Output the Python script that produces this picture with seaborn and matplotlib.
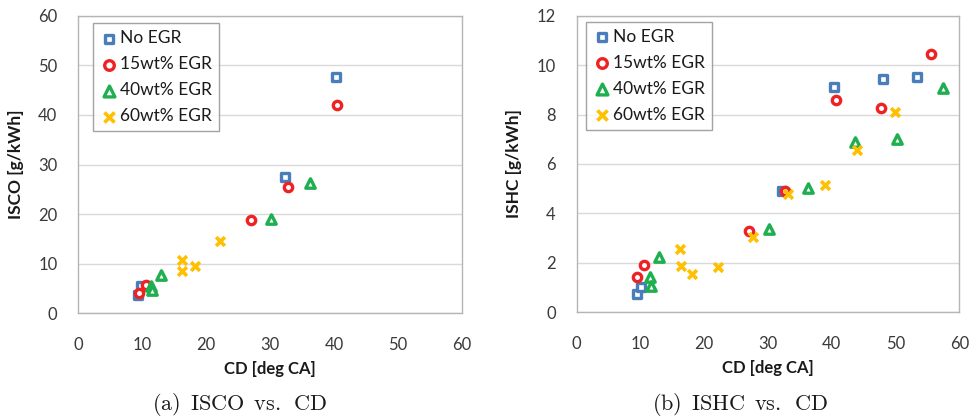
import matplotlib
matplotlib.use("Agg")
import matplotlib.pyplot as plt
import pandas as pd
import seaborn as sns

# ---- data -----------------------------------------------------------------
series = ["No EGR", "15wt% EGR", "40wt% EGR", "60wt% EGR"]

# Panel (a): ISCO vs. CD
isco_cd_noegr = [9.4, 9.8, 32.3, 40.4]
isco_noegr = [3.7, 5.5, 27.4, 47.7]
isco_cd_15 = [9.5, 10.6, 27.0, 32.8, 40.5]
isco_15 = [4.0, 5.7, 18.75, 25.5, 42.1]
isco_cd_40 = [11.3, 11.6, 12.9, 30.2, 36.2]
isco_40 = [5.5, 4.7, 7.7, 19.1, 26.3]
isco_cd_60 = [16.2, 16.3, 18.2, 22.1]
isco_60 = [10.75, 8.6, 9.6, 14.65]

# Panel (b): ISHC vs. CD
ishc_cd_noegr = [9.4, 10.1, 32.25, 40.4, 48.1, 53.3]
ishc_noegr = [0.74, 1.04, 4.92, 9.11, 9.44, 9.53]
ishc_cd_15 = [9.5, 10.6, 27.0, 32.7, 40.6, 47.8, 55.5]
ishc_15 = [1.42, 1.91, 3.30, 4.92, 8.58, 8.25, 10.45]
ishc_cd_40 = [11.5, 11.6, 12.9, 30.2, 36.2, 43.6, 50.3, 57.5]
ishc_40 = [1.44, 1.08, 2.22, 3.36, 5.02, 6.88, 7.01, 9.06]
ishc_cd_60 = [16.2, 16.3, 18.1, 22.1, 27.7, 33.1, 38.9, 44.0, 49.9]
ishc_60 = [2.55, 1.87, 1.54, 1.82, 3.03, 4.77, 5.15, 6.58, 8.10]

x_ticks = [0, 10, 20, 30, 40, 50, 60]
isco_ticks = [0, 10, 20, 30, 40, 50, 60]
ishc_ticks = [0, 2, 4, 6, 8, 10, 12]


def frame(cds, vals, name):
    return pd.DataFrame({"CD": cds, "value": vals, "case": name})


df_isco = pd.concat([
    frame(isco_cd_noegr, isco_noegr, series[0]),
    frame(isco_cd_15, isco_15, series[1]),
    frame(isco_cd_40, isco_40, series[2]),
    frame(isco_cd_60, isco_60, series[3]),
], ignore_index=True)

df_ishc = pd.concat([
    frame(ishc_cd_noegr, ishc_noegr, series[0]),
    frame(ishc_cd_15, ishc_15, series[1]),
    frame(ishc_cd_40, ishc_40, series[2]),
    frame(ishc_cd_60, ishc_60, series[3]),
], ignore_index=True)

# ---- styling --------------------------------------------------------------
sns.set_style("white")
plt.rcParams["font.family"] = ["Lato", "DejaVu Sans"]
plt.rcParams["mathtext.fontset"] = "cm"

styles = {
    "No EGR": dict(marker="s", s=30, facecolor="white", edgecolor="#4A7EBB", linewidth=2.4),
    "15wt% EGR": dict(marker="o", s=36, facecolor="white", edgecolor="#EE2222", linewidth=2.4),
    "40wt% EGR": dict(marker="^", s=46, facecolor="white", edgecolor="#1FAF50", linewidth=2.4),
    "60wt% EGR": dict(marker="x", s=40, color="#FFC000", linewidth=2.6),
}

frame_col = "#b5b5b5"
grid_col = "#d9d9d9"

fig = plt.figure(figsize=(9.73, 4.19), dpi=100)
ax_a = fig.add_axes([0.0805, 0.2523, 0.394, 0.710])
ax_b = fig.add_axes([0.5927, 0.2547, 0.3932, 0.708])


def draw(ax, df, ylabel, yticks, leg_anchor):
    for name in series:
        sub = df[df["case"] == name]
        sns.scatterplot(data=sub, x="CD", y="value", ax=ax, label=name,
                        zorder=3, **styles[name])
    ax.set_xlim(x_ticks[0], x_ticks[-1])
    ax.set_ylim(yticks[0], yticks[-1])
    ax.set_xticks(x_ticks)
    ax.set_yticks(yticks)
    ax.tick_params(axis="both", labelsize=12, colors="#3a3a3a",
                   length=6, width=1, direction="out")
    ax.tick_params(axis="both", color=frame_col)
    ax.tick_params(axis="x", pad=11)
    ax.tick_params(axis="y", pad=9)
    ax.yaxis.grid(True, color=grid_col, linewidth=1)
    ax.xaxis.grid(False)
    ax.set_axisbelow(True)
    for sp in ax.spines.values():
        sp.set_color(frame_col)
        sp.set_linewidth(1)
    ax.set_xlabel("CD [deg CA]", fontsize=12, fontweight="bold", color="#1a1a1a")
    ax.set_ylabel(ylabel, fontsize=12.5, fontweight="bold", color="#1a1a1a")
    ax.xaxis.set_label_coords(0.5, -0.162)
    ax.yaxis.set_label_coords(-0.142, 0.5)
    leg = ax.legend(loc="upper left", bbox_to_anchor=leg_anchor, borderaxespad=0,
                    fontsize=12.5, frameon=True, fancybox=False, edgecolor="#8c8c8c",
                    handletextpad=0.15, labelspacing=0.58, borderpad=0.4,
                    handlelength=1.0, markerscale=1.15)
    leg.get_frame().set_linewidth(1)
    for t in leg.get_texts():
        t.set_color("#1a1a1a")


draw(ax_a, df_isco, "ISCO [g/kWh]", isco_ticks, (0.039, 0.975))
draw(ax_b, df_ishc, "ISHC [g/kWh]", ishc_ticks, (0.025, 0.98))

fig.text(0.2467, 0.034, r"$\mathrm{(a)\ \,ISCO\ \,vs.\ \,CD}$", ha="center", va="center",
         fontsize=16, color="#1a1a1a")
fig.text(0.7605, 0.034, r"$\mathrm{(b)\ \,ISHC\ \,vs.\ \,CD}$", ha="center", va="center",
         fontsize=16, color="#1a1a1a")

fig.savefig("out.png", dpi=100)
